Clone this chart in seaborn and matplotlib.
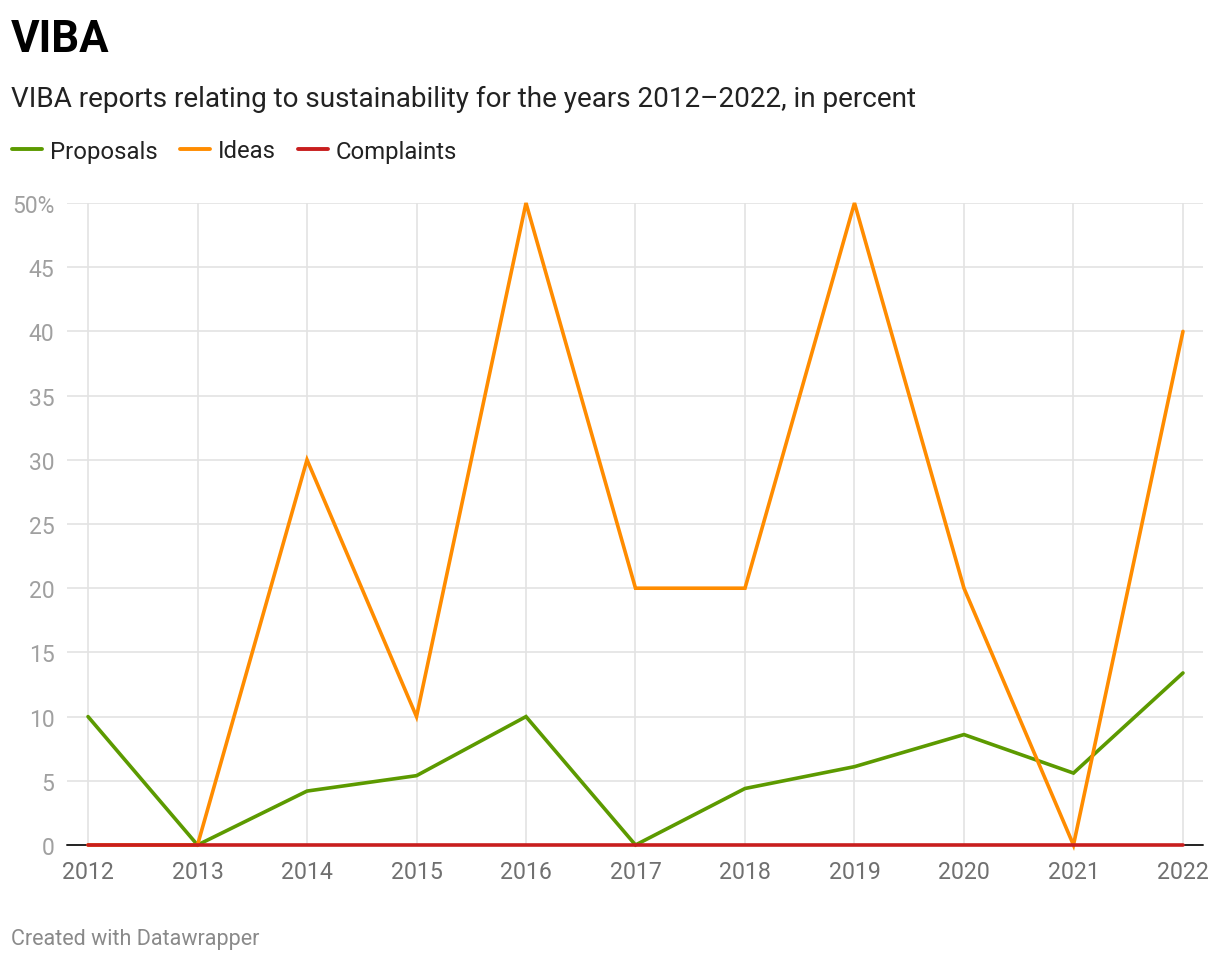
import pandas as pd
import matplotlib
matplotlib.use("Agg")
import matplotlib.pyplot as plt
import seaborn as sns

years = [2012, 2013, 2014, 2015, 2016, 2017, 2018, 2019, 2020, 2021, 2022]
proposals = [10, 0, 4.2, 5.4, 10, 0, 4.4, 6.1, 8.6, 5.6, 13.4]
ideas = [0, 0, 30, 10, 50, 20, 20, 50, 20, 0, 40]
complaints = [0, 0, 0, 0, 0, 0, 0, 0, 0, 0, 0]
series_names = ["Proposals", "Ideas", "Complaints"]
colors = {"Proposals": "#5c9a00", "Ideas": "#ff8c00", "Complaints": "#c81e1e"}
y_ticks = [0, 5, 10, 15, 20, 25, 30, 35, 40, 45, 50]

df = pd.DataFrame({"year": years, "Proposals": proposals,
                   "Ideas": ideas, "Complaints": complaints})
long_df = df.melt(id_vars="year", var_name="series", value_name="value")

sns.set_style("white")
plt.rcParams['font.family'] = ['Roboto', 'DejaVu Sans']

W, H = 1220, 962
fig = plt.figure(figsize=(W / 100, H / 100), dpi=100)
ax = fig.add_axes([67 / W, 1 - 846 / H, (1203 - 67) / W, (846 - 204) / H])

# grid first, lines on top
ax.set_axisbelow(True)
ax.grid(True, color="#e3e3e3", linewidth=1.2)

sns.lineplot(data=long_df, x="year", y="value", hue="series",
             hue_order=series_names, palette=colors, linewidth=2.6,
             ax=ax, legend=False, zorder=3)
for ln in ax.lines:
    ln.set_clip_on(False)
    ln.set_solid_capstyle("round")
    ln.set_solid_joinstyle("miter")

# black baseline at zero
ax.plot([0, 1], [0, 0], transform=ax.get_yaxis_transform(), color="#222222",
        linewidth=1.4, zorder=2, clip_on=False)

ax.set_xlim(2011.808, 2022.183)
ax.set_ylim(0, 50)
ax.set_xticks(years)
ax.set_xticklabels([str(y) for y in years])
ax.set_yticks(y_ticks)
ax.set_yticklabels([f"{t}%" if t == 50 else str(t) for t in y_ticks])
ax.tick_params(axis="x", length=0, pad=11, labelsize=16.7, labelcolor="#707070")
ax.tick_params(axis="y", length=0, pad=9, labelsize=16.5, labelcolor="#a0a0a0")
ax.set_xlabel("")
ax.set_ylabel("")
for s in ax.spines.values():
    s.set_visible(False)

# legend
handles = [plt.Line2D([], [], color=colors[n], linewidth=2.8) for n in series_names]
fig.legend(handles, series_names, loc="center left",
           bbox_to_anchor=(12 / W, 1 - 152 / H), ncol=3, frameon=False,
           borderpad=0, borderaxespad=0,
           fontsize=17.2, handlelength=1.25, handletextpad=0.32,
           columnspacing=0.95, labelcolor="#222222")

fig.text(11 / W, 1 - 52 / H, "VIBA", fontsize=31.5, fontweight="bold",
         color="#000000", va="baseline", ha="left")
fig.text(11 / W, 1 - 107 / H,
         "VIBA reports relating to sustainability for the years 2012\u20132022, in percent",
         fontsize=20.1, color="#222222", va="baseline", ha="left")
fig.text(11 / W, 1 - 945 / H, "Created with Datawrapper", fontsize=15.5,
         color="#8a8a8a", va="baseline", ha="left")

fig.savefig("out.png", dpi=100, facecolor="white")
